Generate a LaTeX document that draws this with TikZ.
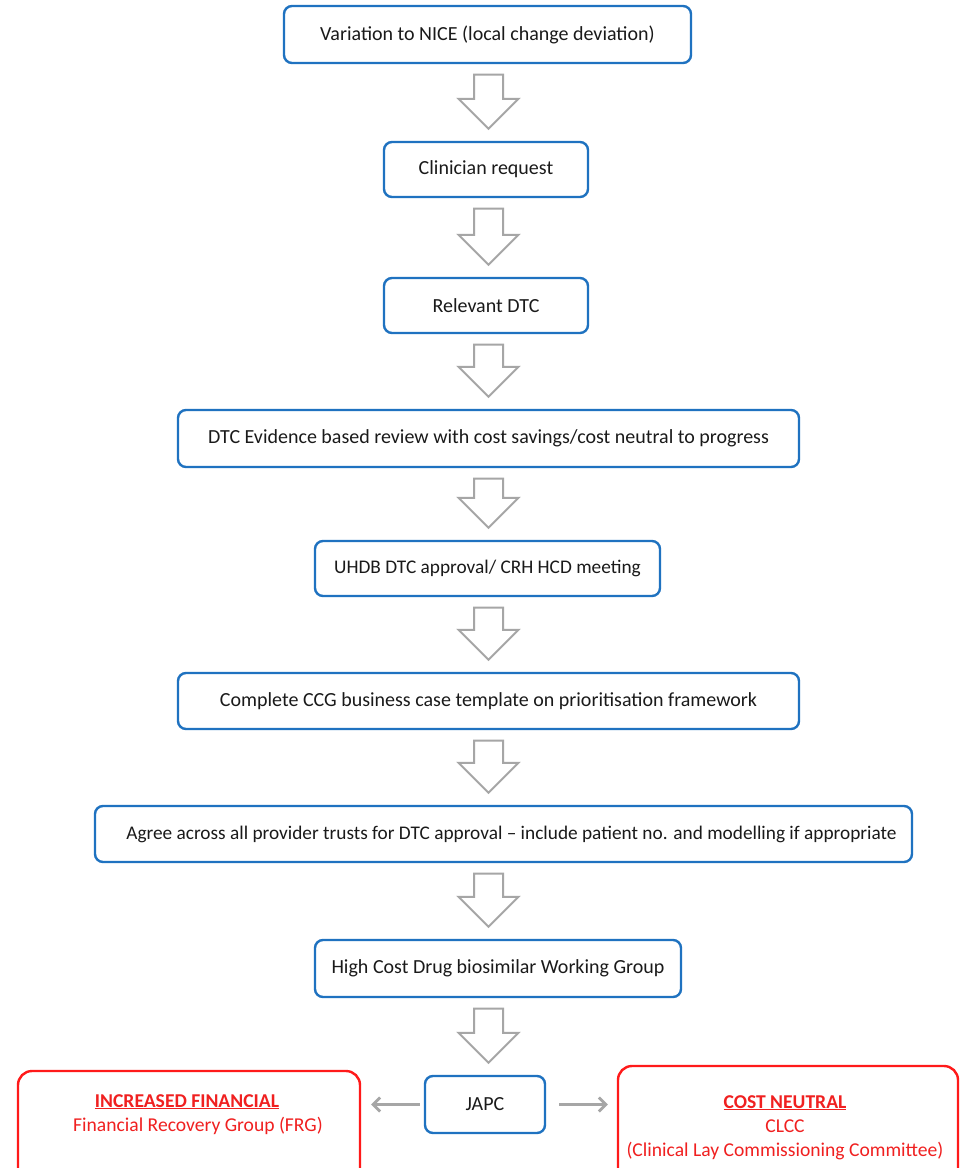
\documentclass[tikz,border=0pt]{standalone}
\usepackage{fontspec}
\setmainfont{Carlito}
\usetikzlibrary{calc,arrows.meta}
\definecolor{boxblue}{HTML}{1F72C0}
\definecolor{arrgray}{HTML}{A6A6A6}
\definecolor{redline}{HTML}{FF1A1A}
\definecolor{redtext}{HTML}{F02020}
\definecolor{txt}{HTML}{1A1A1A}
\tikzset{
  bbox/.style={draw=boxblue, line width=2.4pt, rounded corners=8pt, fill=white,
    inner sep=0pt, text=txt, font=\fontsize{20}{24}\selectfont},
  rbox/.style={draw=redline, line width=2.4pt, rounded corners=14pt, inner sep=0pt},
  rtext/.style={text=redtext, align=center, font=\fontsize{19.6}{24}\selectfont, inner sep=0pt},
  blockarr/.style={draw=arrgray, line width=2pt, fill=white, line join=miter},
  harr/.style={draw=arrgray, line width=2.8pt, -{Straight Barb[length=7pt,width=14pt,line width=2.8pt]}}
}
\newcommand\bigarrow[2]{%
  \path (#1.south -| axis) ++(0,10.5) coordinate (ta);
  \path (#2.north -| axis) ++(0,-12) coordinate (tb);
  \draw[blockarr] ($(ta)+(-14.5,0)$) -- ($(ta)+(14.5,0)$) -- ($(tb)+(14.5,-30)$)
     -- ($(tb)+(30,-30)$) -- (tb) -- ($(tb)+(-30,-30)$) -- ($(tb)+(-14.5,-30)$) -- cycle;}
\begin{document}
\begin{tikzpicture}[x=1pt,y=-1pt]
\useasboundingbox (0,0) rectangle (964,1168);
\clip (0,0) rectangle (964,1168);
\fill[white] (0,0) rectangle (964,1168);
\coordinate (axis) at (488.5,0);

\node[bbox, minimum width=407pt, minimum height=57pt] (n1) at (487.5,34.5) {Variation to NICE (local change deviation)};
\node[bbox, minimum width=204pt, minimum height=55pt] (n2) at (486,169.5) {Clinician request};
\node[bbox, minimum width=204pt, minimum height=55pt] (n3) at (486,305.5) {Relevant DTC};
\node[bbox, minimum width=621pt, minimum height=57pt] (n4) at (488.5,438.5) {DTC Evidence based review with cost savings/cost neutral to progress};
\node[bbox, minimum width=345pt, minimum height=55pt, font=\fontsize{19.3}{24}\selectfont] (n5) at (487.5,568.5) {UHDB DTC approval/ CRH HCD meeting};
\node[bbox, minimum width=621pt, minimum height=56pt] (n6) at (488.5,701) {Complete CCG business case template on prioritisation framework};
\node[bbox, minimum width=817pt, minimum height=56pt, font=\fontsize{19.3}{24}\selectfont] (n7) at (503.5,834) {\hspace{16pt}Agree across all provider trusts for DTC approval -- include patient no. and modelling if appropriate};
\node[bbox, minimum width=366pt, minimum height=57pt] (n8) at (498,968.5) {High Cost Drug biosimilar Working Group};
\node[bbox, minimum width=120pt, minimum height=57pt] (japc) at (485,1104.5) {JAPC};

\node[rbox, minimum width=342pt, minimum height=120pt] (frg) at (189,1131) {};
\node[rbox, minimum width=340pt, minimum height=124pt] (clcc) at (788,1128) {};
\node[rtext, anchor=north] (frgt) at (193,1094) {\textbf{\underline{INCREASED FINANCIAL}}\hspace*{12pt}\\\hspace*{10pt}Financial Recovery Group (FRG)};
\node[rtext, anchor=north] (clcct) at (785,1095) {\textbf{\underline{COST NEUTRAL}}\\CLCC\\(Clinical Lay Commissioning Committee)};

\bigarrow{n1}{n2}
\bigarrow{n2}{n3}
\bigarrow{n3}{n4}
\bigarrow{n4}{n5}
\bigarrow{n5}{n6}
\bigarrow{n6}{n7}
\bigarrow{n7}{n8}
\bigarrow{n8}{japc}

\draw[harr] ($(japc.west)+(-4,0)$) -- ($(frg.east |- japc.west)+(10,0)$);
\draw[harr] ($(japc.east)+(13,0)$) -- ($(clcc.west |- japc.east)+(-9,0)$);
\end{tikzpicture}
\end{document}
